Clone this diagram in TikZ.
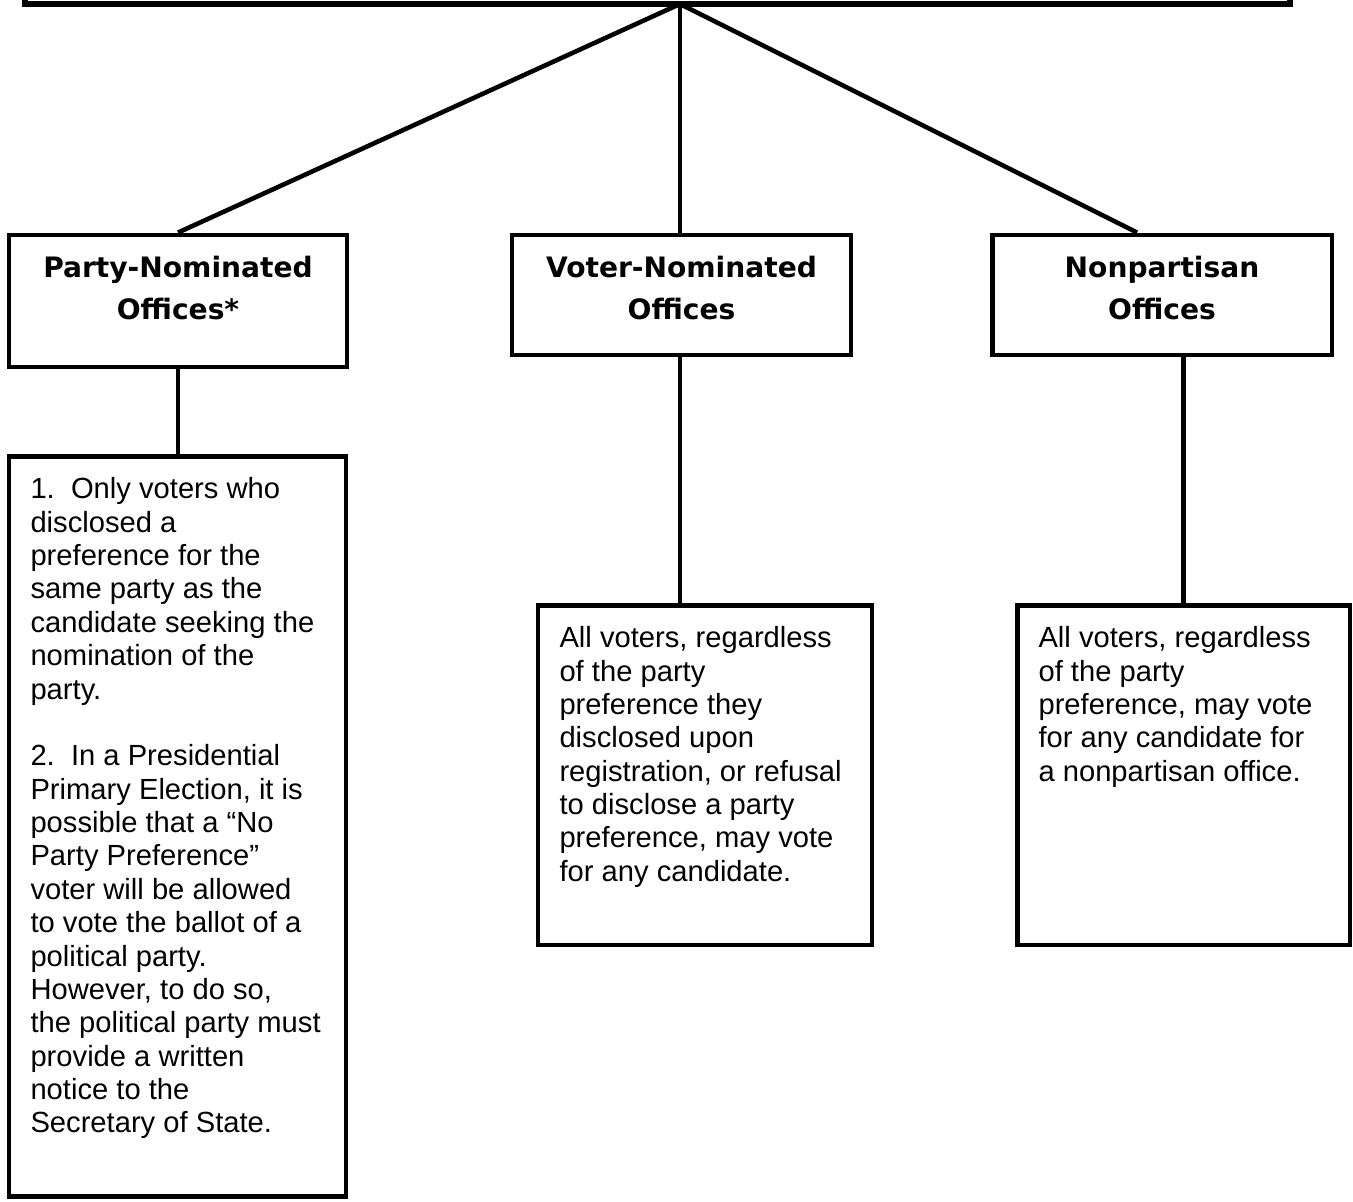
\documentclass[tikz,border=0pt]{standalone}
\usepackage{fontspec}
\setmainfont{Liberation Sans}
\newfontfamily\headfont{DejaVu Sans}
\usepackage{tikz}

\begin{document}
\begin{tikzpicture}[x=0.02cm,y=-0.02cm,
  box/.style={draw=black,line width=2.8pt,inner sep=0.43cm},
  link/.style={line width=2.6pt},
  font=\fontsize{16.6}{19}\selectfont]
\useasboundingbox (0,0) rectangle (1353,1201);
% title box, cut off by the top edge
\node[box,line width=3.2pt,minimum width=25.3cm,minimum height=2.08cm] (head) at (657.5,-48) {};
\coordinate (apex) at (680,4);
% the three kinds of office
\node[box] (pno) at (178,301) {\parbox[t][1.78cm][t]{5.9cm}{\centering\headfont\bfseries\fontsize{16}{23.9}\selectfont Party-Nominated\\Offices*}};
\node[box] (vno) at (681.5,295) {\parbox[t][1.54cm][t]{5.92cm}{\centering\headfont\bfseries\fontsize{16}{23.9}\selectfont Voter-Nominated\\Offices}};
\node[box] (npo) at (1162,295) {\parbox[t][1.54cm][t]{5.94cm}{\centering\headfont\bfseries\fontsize{16}{23.9}\selectfont Nonpartisan\\Offices}};
% who may vote
\node[box] (pnotext) at (177.5,826.5) {\parbox[t][13.96cm][t]{5.88cm}{\raggedright
1.\ \ Only voters who\\
disclosed a\\
preference for the\\
same party as the\\
candidate seeking the\\
nomination of the\\
party.\\[19pt]
2.\ \ In a Presidential\\
Primary Election, it is\\
possible that a “No\\
Party Preference”\\
voter will be allowed\\
to vote the ballot of a\\
political party.\\
However, to do so,\\
the political party must\\
provide a written\\
notice to the\\
Secretary of State.}};
\node[box] (vnotext) at (705,775) {\parbox[t][5.94cm][t]{5.82cm}{\raggedright
All voters, regardless\\
of the party\\
preference they\\
disclosed upon\\
registration, or refusal\\
to disclose a party\\
preference, may vote\\
for any candidate.}};
\node[box] (npotext) at (1183.5,775) {\parbox[t][5.94cm][t]{5.8cm}{\raggedright
All voters, regardless\\
of the party\\
preference, may vote\\
for any candidate for\\
a nonpartisan office.}};
% connectors
\draw[link] (apex) -- (pno.north);
\draw[link] (apex) -- (apex |- vno.north);
\draw[link] (apex) -- ([xshift=-0.5cm]npo.north);
\draw[link] (pno.south) -- (pno.south |- pnotext.north);
\draw[link] (apex |- vno.south) -- (apex |- vnotext.north);
\draw[link] (npotext.north |- npo.south) -- (npotext.north);
\end{tikzpicture}
\end{document}
